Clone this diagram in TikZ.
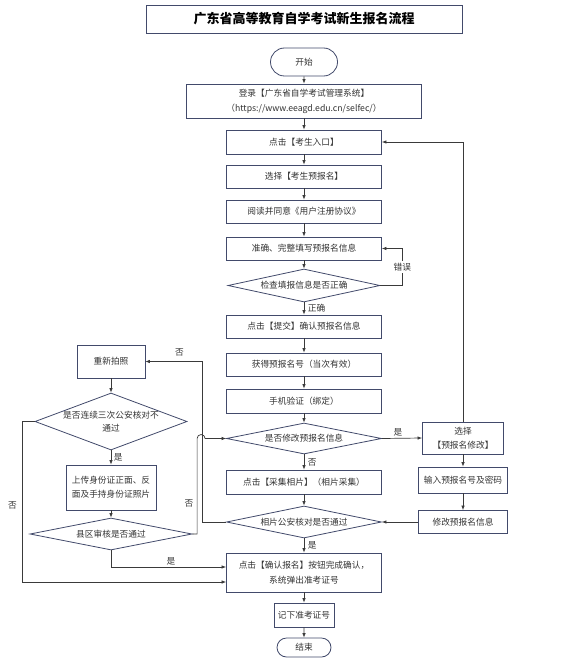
\documentclass[tikz,border=0pt]{standalone}
\usepackage{fontspec}
\setmainfont{Noto Sans CJK SC}
\usetikzlibrary{shapes.geometric,shapes.misc,arrows.meta}
\definecolor{boxline}{HTML}{424A6B}
\definecolor{flowline}{HTML}{3A3A3A}
\definecolor{flowtext}{HTML}{333333}
\begin{document}
\begin{tikzpicture}[x=1pt,y=-1pt,
    every node/.style={font=\fontsize{8.7}{11}\selectfont,text=flowtext},
    stepbox/.style={draw=boxline,line width=0.8pt,fill=white,align=center,inner sep=1pt},
    startend/.style={rounded rectangle,draw=boxline,line width=0.8pt,fill=white,inner sep=1pt},
    decide/.style={diamond,draw=boxline,line width=0.8pt,fill=white,align=center,inner sep=0pt},
    arr/.style={draw=flowline,line width=0.7pt,-{Latex[length=4.5pt,width=3.5pt]}},
    tag/.style={inner sep=1.5pt}]
    \useasboundingbox (0,0) rectangle (561,666);
    \node[draw=boxline,line width=0.9pt,minimum width=316pt,minimum height=28pt,font=\fontsize{13}{15}\selectfont\bfseries,text=black] (title) at (304,19) {广东省高等教育自学考试新生报名流程};
    \node[startend,minimum width=69pt,minimum height=28pt] (start) at (304,62) {开始};
    \node[stepbox,minimum width=235pt,minimum height=34pt,font=\fontsize{8.7}{15}\selectfont] (login) at (304,101) {登录【广东省自学考试管理系统】\\（https://www.eeagd.edu.cn/selfec/）};
    \node[stepbox,minimum width=155pt,minimum height=24pt] (entry) at (304,142) {点击【考生入口】};
    \node[stepbox,minimum width=155pt,minimum height=23pt] (choose) at (304,176.5) {选择【考生预报名】};
    \node[stepbox,minimum width=155pt,minimum height=23pt] (read) at (304,211.5) {阅读并同意《用户注册协议》};
    \node[stepbox,minimum width=155pt,minimum height=23pt] (fill) at (304,248.5) {准确、完整填写预报名信息};
    \node[decide,aspect=4.6,minimum width=152pt,minimum height=33pt] (check) at (304,285.5) {检查填报信息是否正确};
    \node[stepbox,minimum width=155pt,minimum height=23pt] (submit) at (304,326.5) {点击【提交】确认预报名信息};
    \node[stepbox,minimum width=155pt,minimum height=23pt] (getno) at (304,364.5) {获得预报名号（当次有效）};
    \node[stepbox,minimum width=155pt,minimum height=24pt] (phone) at (304,401) {手机验证（绑定）};
    \node[decide,aspect=5,minimum width=155pt,minimum height=31pt] (modify) at (304,438.5) {是否修改预报名信息};
    \node[stepbox,minimum width=155pt,minimum height=24pt] (photo) at (304,482) {点击【采集相片】（相片采集）};
    \node[decide,aspect=4.8,minimum width=155pt,minimum height=32pt] (police) at (304,522) {相片公安核对是否通过};
    \node[stepbox,minimum width=155pt,minimum height=39pt,font=\fontsize{8.7}{15}\selectfont] (confirm) at (304,572.5) {点击【确认报名】按钮完成确认，\\系统弹出准考证号};
    \node[stepbox,minimum width=60pt,minimum height=24pt] (record) at (304,615) {记下准考证号};
    \node[startend,minimum width=56pt,minimum height=19pt] (finish) at (304,647.5) {结束};
    \node[stepbox,minimum width=81pt,minimum height=32pt,font=\fontsize{8.7}{14}\selectfont] (selmod) at (463,438) {选择\\【预报名修改】};
    \node[stepbox,minimum width=89pt,minimum height=26pt] (input) at (463,480) {输入预报名号及密码};
    \node[stepbox,minimum width=89pt,minimum height=23pt] (change) at (463,522) {修改预报名信息};
    \node[stepbox,minimum width=68pt,minimum height=33pt] (retake) at (111,361.5) {重新拍照};
    \node[decide,aspect=2.67,inner xsep=-3pt,minimum width=152pt,minimum height=57pt,font=\fontsize{8.7}{13}\selectfont] (thrice) at (111,421.5) {是否连续三次公安核对不\\通过};
    \node[stepbox,minimum width=90pt,minimum height=45pt,font=\fontsize{8.7}{14}\selectfont] (upload) at (111,487.5) {上传身份证正面、反\\面及手持身份证照片};
    \node[decide,aspect=5,minimum width=162pt,minimum height=32pt] (county) at (111,534) {县区审核是否通过};
    \foreach \a/\b in {start/login,login/entry,entry/choose,choose/read,read/fill,fill/check,submit/getno,getno/phone,phone/modify,photo/police,confirm/record,record/finish,selmod/input,input/change,retake/thrice,upload/county}
        \draw[arr] (\a) -- (\b);
    \draw[arr] (check) -- node[tag,right,xshift=2pt]{正确} (submit);
    \draw[arr] (modify) -- node[tag,right,xshift=2pt]{否} (photo);
    \draw[arr] (police) -- node[tag,right,xshift=2pt]{是} (confirm);
    \draw[arr] (thrice) -- node[tag,right,xshift=1pt]{是} (upload);
    \draw[arr] (check.east) -- ++(22,0) |- node[tag,pos=0.25,fill=white]{错误} (fill.east);
    \draw[arr] (modify.east) -- node[tag,above,xshift=-4pt]{是} (selmod.west);
    \draw[arr] (selmod.north) |- (entry.east);
    \draw[arr] (change.west) -- (police.east);
    \draw[arr] (police.west) -- ++(-24,0) |- node[tag,pos=0.7,above,yshift=3pt]{否} (retake.east);
    \draw[arr] (thrice.west) -- ++(-12,0) |- node[tag,pos=0.26,left,xshift=-4pt]{否} ([yshift=-9.5pt]confirm.west);
    \draw[arr] (county.south) |- node[tag,pos=0.76,above]{是} ([yshift=5.5pt]confirm.west);
    \draw[arr] (county.east) -| node[tag,pos=0.66,left,xshift=-2pt]{否} ([xshift=-29pt]modify.west) arc[start angle=180,end angle=360,radius=4] -- (modify.west);
\end{tikzpicture}
\end{document}
